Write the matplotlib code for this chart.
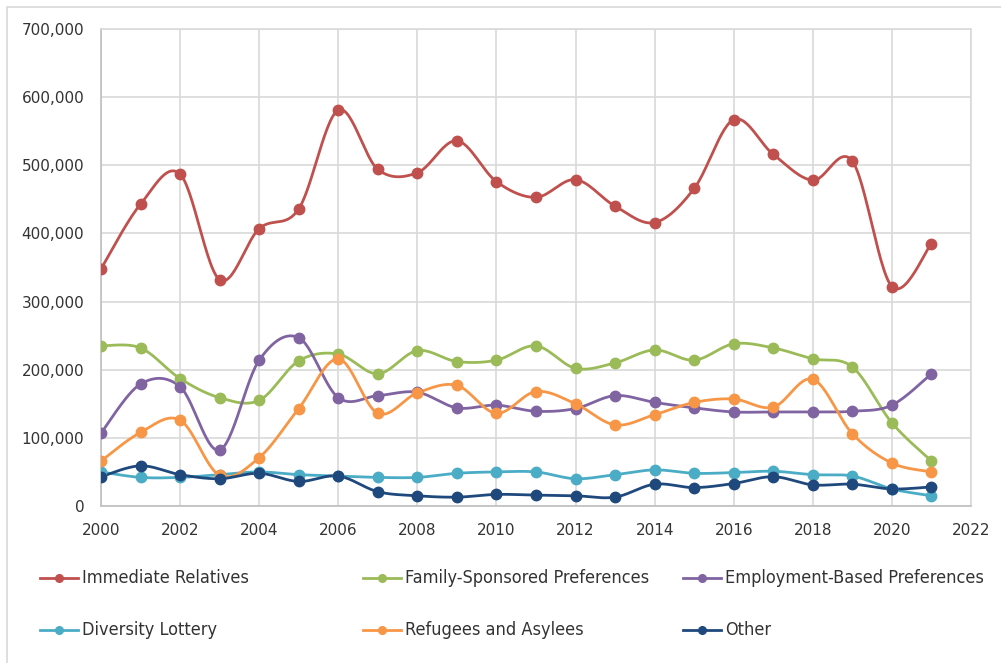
import numpy as np
import matplotlib.pyplot as plt
from matplotlib.lines import Line2D
from matplotlib.patches import Rectangle

years = list(range(2000, 2022))

immediate_relatives = [348000, 443000, 487000, 332000, 407000, 436000, 581000, 494000, 489000, 536000, 476000,
                       453000, 479000, 440000, 416000, 466000, 567000, 516000, 478000, 506000, 322000, 385000]
family_sponsored = [235000, 232000, 187000, 159000, 155000, 213000, 223000, 194000, 228000, 212000, 214000,
                    235000, 202000, 210000, 229000, 214000, 238000, 232000, 216000, 204000, 122000, 66000]
employment_based = [107000, 179000, 175000, 82000, 214000, 247000, 159000, 162000, 167000, 144000, 148000,
                    139000, 143000, 162000, 152000, 144000, 138000, 138000, 138000, 139000, 148000, 194000]
diversity_lottery = [50000, 42000, 42000, 46000, 50000, 46000, 44000, 42000, 42000, 48000, 50000,
                     50000, 40000, 46000, 53000, 48000, 49000, 51000, 46000, 44000, 25000, 15000]
refugees_asylees = [66000, 108000, 126000, 45000, 71000, 143000, 216000, 136000, 166000, 177000, 136000,
                    168000, 150000, 119000, 134000, 152000, 157000, 145000, 186000, 106000, 63000, 50000]
other = [43000, 59000, 46000, 40000, 48000, 36000, 44000, 21000, 15000, 13000, 17000,
         16000, 15000, 13000, 32000, 27000, 33000, 43000, 31000, 32000, 25000, 28000]

labels = ["Immediate Relatives", "Family-Sponsored Preferences", "Employment-Based Preferences",
          "Diversity Lottery", "Refugees and Asylees", "Other"]
series = [immediate_relatives, family_sponsored, employment_based, diversity_lottery, refugees_asylees, other]
colors = ["#C0504D", "#9BBB59", "#8064A2", "#4BACC6", "#F79646", "#1F497D"]


def smooth(x, y, n=30):
    # Excel-style smoothing: cubic Bezier with Catmull-Rom control points
    x = np.asarray(x, float)
    y = np.asarray(y, float)
    px = np.concatenate([[x[0]], x, [x[-1]]])
    py = np.concatenate([[y[0]], y, [y[-1]]])
    t = np.linspace(0, 1, n)[:, None]
    xs, ys = [], []
    for i in range(1, len(x)):
        p0 = np.array([px[i], py[i]])
        p3 = np.array([px[i + 1], py[i + 1]])
        c1 = p0 + (p3 - np.array([px[i - 1], py[i - 1]])) / 6
        c2 = p3 - (np.array([px[i + 2], py[i + 2]]) - p0) / 6
        b = (1 - t) ** 3 * p0 + 3 * (1 - t) ** 2 * t * c1 + 3 * (1 - t) * t ** 2 * c2 + t ** 3 * p3
        xs.append(b[:, 0])
        ys.append(b[:, 1])
    return np.concatenate(xs), np.concatenate(ys)


W, H = 1001, 663
fig = plt.figure(figsize=(W / 100, H / 100), dpi=100)
ax = fig.add_axes([101 / W, 1 - 506 / H, (971 - 101) / W, (506 - 29) / H])

for vals, c in zip(series, colors):
    sx, sy = smooth(years, vals)
    ax.plot(sx, sy, color=c, lw=2, solid_capstyle="round", zorder=3)
    ax.plot(years, vals, "o", color=c, ms=7.5, zorder=4)

ax.set_xlim(2000, 2022)
ax.set_ylim(0, 700000)
ax.set_xticks(range(2000, 2023, 2))
ax.set_yticks(range(0, 700001, 100000))
ax.yaxis.set_major_formatter(plt.FuncFormatter(lambda v, p: "{:,.0f}".format(v)))
ax.grid(True, color="#D9D9D9", lw=1.2)
ax.set_axisbelow(True)
for s in ax.spines.values():
    s.set_color("#D9D9D9")
    s.set_linewidth(1.2)
ax.spines["bottom"].set_color("#BFBFBF")
ax.spines["left"].set_color("#BFBFBF")
ax.tick_params(length=0, labelsize=11, colors="#333333")
ax.tick_params(axis="x", pad=12)
ax.tick_params(axis="y", pad=12)

# outer chart border
fig.add_artist(Rectangle((7 / W, -0.1), 1.2, 1 - 7 / H + 0.1, transform=fig.transFigure,
                         fill=False, edgecolor="#D9D9D9", lw=1.2))

# legend, three equal columns as in Excel
col_x = [40, 363, 683]
row_y = [578, 630]
for i, (lab, c) in enumerate(zip(labels, colors)):
    x0 = col_x[i % 3]
    y0 = 1 - row_y[i // 3] / H
    fig.add_artist(Line2D([x0 / W, (x0 + 38) / W], [y0, y0], color=c, lw=2, transform=fig.transFigure))
    fig.add_artist(Line2D([(x0 + 19) / W], [y0], marker="o", color=c, ms=5.5, transform=fig.transFigure))
    fig.text((x0 + 42) / W, y0, lab, va="center", ha="left", fontsize=13, color="#333333",
             family="DejaVu Sans", fontstretch="condensed")

fig.savefig("out.png", dpi=100)
